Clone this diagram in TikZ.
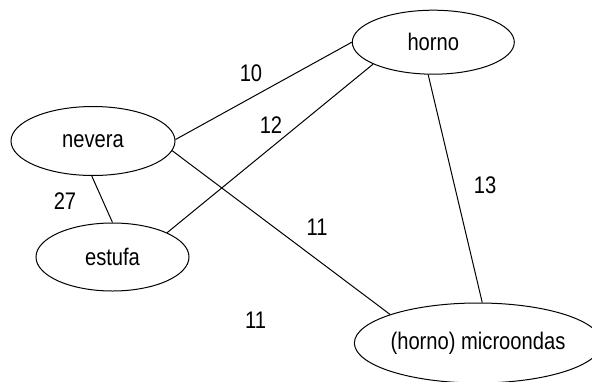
\documentclass[tikz,border=0pt]{standalone}
\usepackage{fontspec}
\setmainfont[FakeStretch=0.84]{Liberation Sans}
\usetikzlibrary{shapes.geometric}
\tikzset{
  place/.style={ellipse, draw, line width=1pt, inner sep=0pt, font=\fontsize{24}{28}\selectfont},
  edge/.style={line width=1pt},
  wlabel/.style={inner sep=0pt, font=\fontsize{24}{28}\selectfont}
}
\begin{document}
\begin{tikzpicture}[x=1pt,y=-1pt]
\useasboundingbox (0,0) rectangle (592,381);
\node[place, minimum width=164pt, minimum height=69pt] (nevera) at (93,141) {nevera};
\node[place, minimum width=153pt, minimum height=68pt] (estufa) at (112.5,257) {estufa};
\node[place, minimum width=162pt, minimum height=64pt] (horno) at (433.3,42.2) {horno};
\node[place, minimum width=230pt, minimum height=80pt] (micro) at (478,343) {(horno) microondas};
\draw[edge] (nevera.1) -- (horno.180);
\draw[edge] (nevera.-7) -- (micro.162);
\draw[edge] (horno.200.6) -- (estufa.24.8);
\draw[edge] (nevera.268) -- (estufa.90);
\draw[edge] (horno.261.4) -- (micro.84.6);
\node[wlabel] (l10) at (251,73.5) {10};
\node[wlabel] (l12) at (271,125) {12};
\node[wlabel] (l27) at (65,201.5) {27};
\node[wlabel] (l11a) at (317,227) {11};
\node[wlabel] (l13) at (485,185) {13};
\node[wlabel] (l11b) at (255.5,320) {11};
\end{tikzpicture}
\end{document}
